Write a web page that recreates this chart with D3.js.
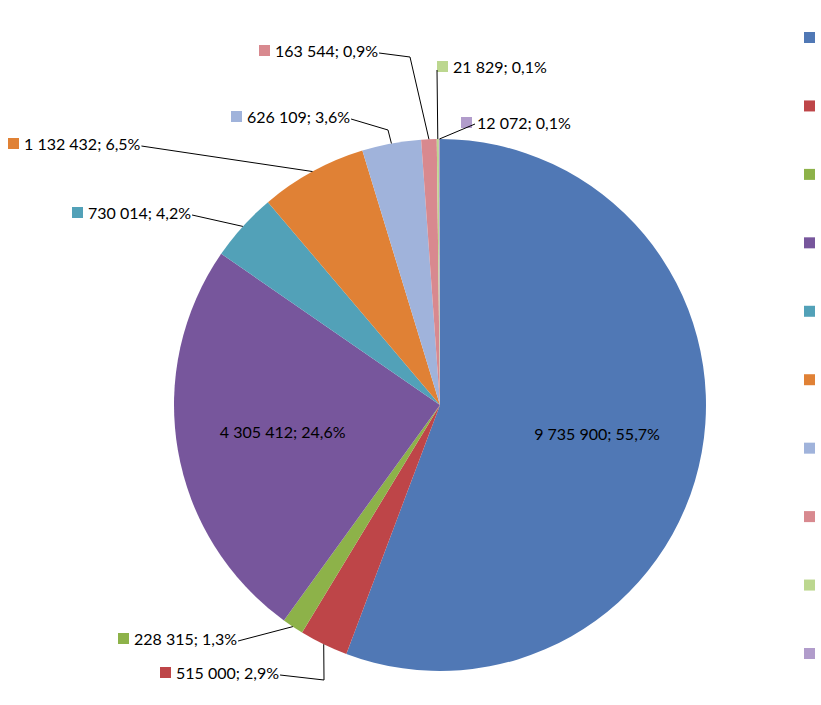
<!DOCTYPE html>
<html>
<head>
<meta charset="utf-8">
<script src="https://cdn.jsdelivr.net/npm/d3@7"></script>
<style>
body { margin: 0; background: #fff; }
text { font-family: Lato, "Liberation Sans", sans-serif; font-size: 16px; fill: #000; }
</style>
</head>
<body>
<script>
// chart data
var values = [9735900, 515000, 228315, 4305412, 730014, 1132432, 626109, 163544, 21829, 12072];
var labels = ["9 735 900; 55,7%", "515 000; 2,9%", "228 315; 1,3%", "4 305 412; 24,6%", "730 014; 4,2%",
              "1 132 432; 6,5%", "626 109; 3,6%", "163 544; 0,9%", "21 829; 0,1%", "12 072; 0,1%"];
var colors = ["#5078b5", "#be4548", "#8db249", "#77569c", "#52a1b8", "#e08135", "#a0b3db", "#d8898f", "#bcd78f", "#b19ccb"];

// label layout: [square x, baseline y] or null for inside labels
var labelPos = [null, [160, 679], [118, 645], null, [72, 219], [8, 150], [231, 123], [259, 57], [437, 73], [461, 129]];
// elbow points of the leader lines
var elbows = [null, [324, 680], null, null, null, null, [388, 130], [410, 57], null, null];

var w = 821, h = 705, cx = 440, cy = 405, r = 266;

var svg = d3.select("body").append("svg").attr("width", w).attr("height", h);

var pie = d3.pie().sort(null).value(function(d){ return d; });
var arc = d3.arc().innerRadius(0).outerRadius(r);
var arcs = pie(values);

var g = svg.append("g").attr("transform", "translate(" + cx + "," + cy + ")");
g.selectAll("path").data(arcs).enter().append("path")
    .attr("d", arc)
    .attr("fill", function(d, i){ return colors[i]; });

// inside labels
var inner = d3.arc().innerRadius(r * 0.6).outerRadius(r * 0.6);
arcs.forEach(function(d, i){
    if (labelPos[i]) return;
    var c = inner.centroid(d);
    g.append("text").attr("x", c[0]).attr("y", c[1] + 6).attr("text-anchor", "middle").text(labels[i]);
});

// outside labels with leader lines
arcs.forEach(function(d, i){
    var p = labelPos[i];
    if (!p) return;
    svg.append("rect").attr("x", p[0]).attr("y", p[1] - 12).attr("width", 11).attr("height", 11).attr("fill", colors[i]);
    var t = svg.append("text").attr("x", p[0] + 16).attr("y", p[1]).text(labels[i]);
    var tw = t.node().getComputedTextLength();
    var a = (d.startAngle + d.endAngle) / 2;
    var edge = [cx + Math.sin(a) * r, cy - Math.cos(a) * r];
    var start;
    if (i === 8) start = [p[0], p[1] - 3];
    else if (i === 9) start = [p[0] + 14, p[1] - 5];
    else start = [p[0] + 16 + tw + 1, p[1] - 4];
    var pts = [start];
    if (elbows[i]) pts.push(elbows[i]);
    pts.push(edge);
    svg.append("path").attr("d", d3.line()(pts)).attr("fill", "none").attr("stroke", "#000").attr("stroke-width", 1);
});

// legend swatches (text cut off at right edge)
var ly = d3.scaleLinear().domain([0, 9]).range([32, 648]);
svg.selectAll(".leg").data(colors).enter().append("rect")
    .attr("x", 804).attr("y", function(d, i){ return ly(i); })
    .attr("width", 11).attr("height", 11)
    .attr("fill", function(d){ return d; });
</script>
</body>
</html>
